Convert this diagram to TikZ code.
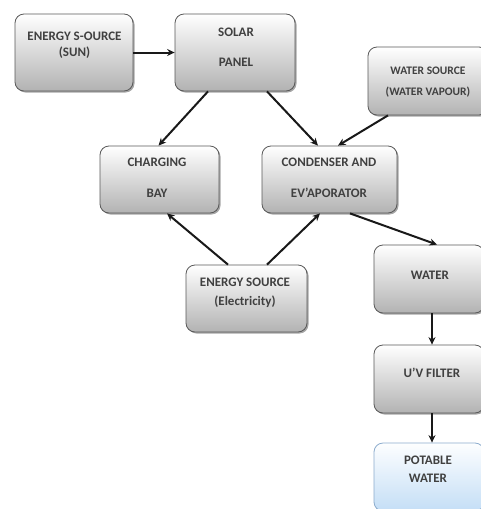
\documentclass[tikz,border=0pt]{standalone}
\usepackage{fontspec}
\setmainfont{Carlito}
\usetikzlibrary{shadows,arrows.meta,calc}
\definecolor{skyb}{RGB}{196,222,246}
\definecolor{skyd}{RGB}{140,172,205}
\begin{document}
\begin{tikzpicture}[x=1pt,y=-1pt,
  box/.style={draw=black!65, line width=0.8pt, rounded corners=9pt, top color=white, middle color=white!93!black, bottom color=black!30,
    drop shadow={shadow xshift=1.5pt, shadow yshift=-1.5pt, fill=black, opacity=0.35}},
  bluebox/.style={box, draw=skyd, top color=white!97!skyb, middle color=white!70!skyb, bottom color=skyb},
  txt/.style={font=\bfseries\fontsize{13}{15.5}\selectfont, text=black!75, align=center},
  smalltxt/.style={font=\bfseries\fontsize{11.5}{13.5}\selectfont, text=black!75, align=center},
  arr/.style={-{Stealth[length=7.5pt,width=7pt]}, line width=2pt, black!90}]
\fill[white] (0,0) rectangle (481,509);
\useasboundingbox (0,0) rectangle (481,509);
\clip (0,0) rectangle (481,509);

% boxes
\node[box, minimum width=118pt, minimum height=77pt] (sun) at (74,52.5) {};
\node[box, minimum width=120pt, minimum height=77pt] (solar) at (235,52.5) {};
\node[box, minimum width=120pt, minimum height=68pt] (wsrc) at (428,81) {};
\node[box, minimum width=119pt, minimum height=67pt] (charging) at (159.5,179.5) {};
\node[box, minimum width=135pt, minimum height=67pt] (cond) at (329.5,179.5) {};
\node[box, minimum width=121pt, minimum height=67pt] (elec) at (246.5,298.5) {};
\node[box, minimum width=110pt, minimum height=68pt] (water) at (429,279) {};
\node[box, minimum width=110pt, minimum height=68pt] (uv) at (429,379) {};
\node[bluebox, minimum width=110pt, minimum height=68pt] (potable) at (429,477) {};

% texts
\node[txt] (sunT) at (74.5,45) {ENERGY S-OURCE\\[0.5pt](SUN)};
\node[txt] (solarT) at (236,47) {SOLAR\\[14.5pt]PANEL};
\node[smalltxt] (wsrcT) at (428,82.5) {WATER SOURCE\\[7.5pt](WATER VAPOUR)};
\node[txt] (chargingT) at (157,177.5) {CHARGING\\[15.5pt]BAY};
\node[txt] (condT) at (329,177.5) {CONDENSER AND\\[15.5pt]EV'APORATOR};
\node[txt] (elecT) at (245,292.5) {ENERGY SOURCE\\[3.5pt](Electricity)};
\node[txt] (waterT) at (430,275) {WATER};
\node[txt] (uvT) at (432,373) {U'V FILTER};
\node[txt] (potableT) at (428,469) {POTABLE\\[2.5pt]WATER};

% connectors
\draw[arr] (sun.east) -- (solar.west);
\draw[arr] ([xshift=-27pt]solar.south) -- ([xshift=-1pt]charging.north);
\draw[arr] ([xshift=32pt]solar.south) -- ([xshift=-11.5pt]cond.north);
\draw[arr] ([xshift=-40pt]wsrc.south) -- ([xshift=8.5pt]cond.north);
\draw[arr] ([xshift=-18.5pt]elec.north) -- ([xshift=7.5pt]charging.south);
\draw[arr] ([xshift=20.5pt]elec.north) -- ([xshift=-9.5pt]cond.south);
\draw[arr] ([xshift=20.5pt]cond.south) -- ([xshift=8pt]water.north);
\draw[arr] ([xshift=3pt]water.south) -- ([xshift=3pt]uv.north);
\draw[arr] ([xshift=3pt]uv.south) -- ([xshift=3pt]potable.north);
\end{tikzpicture}
\end{document}
